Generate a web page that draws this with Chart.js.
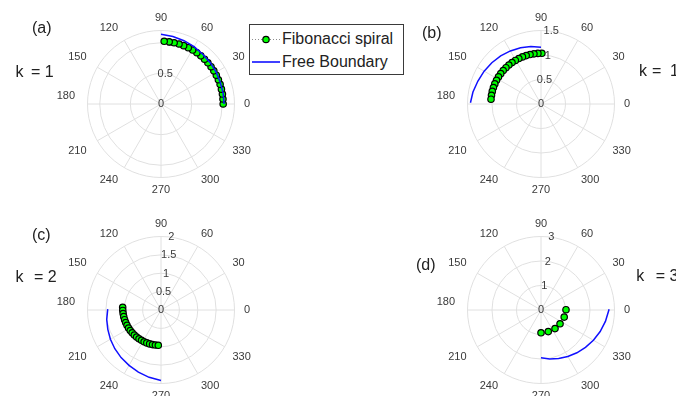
<!DOCTYPE html>
<html lang="en">
<head>
<meta charset="utf-8">
<title>Fibonacci spiral and free boundary</title>
<script src="https://cdn.jsdelivr.net/npm/chart.js@4.4.1/dist/chart.umd.min.js"></script>
<style>
  html, body { margin: 0; padding: 0; background: #fff; }
  body {
    position: relative; width: 691px; height: 396px; overflow: hidden;
    font-family: "Liberation Sans", Arial, Helvetica, sans-serif; color: #222;
  }
  canvas.polar { position: absolute; }
  .txt { position: absolute; font-size: 16px; line-height: 16px; white-space: pre; }
  .clip { position: absolute; overflow: hidden; height: 22px; }
  .clip .txt { left: 0; top: 0; }
  #legend {
    position: absolute; left: 249px; top: 24px; width: 153px; height: 49px;
    border: 1px solid #3a3a3a; background: #fff;
  }
  #legend svg { position: absolute; left: 0; top: 0; }
</style>
</head>
<body>

<canvas id="pa" class="polar" width="240" height="240" style="left:41px;top:-16px"></canvas>
<canvas id="pb" class="polar" width="240" height="240" style="left:421px;top:-16px"></canvas>
<canvas id="pc" class="polar" width="240" height="240" style="left:41px;top:190px"></canvas>
<canvas id="pd" class="polar" width="240" height="240" style="left:421px;top:190px"></canvas>

<div class="txt" style="left:32px;top:20px">(a)</div>
<div class="txt" style="left:15.6px;top:64px">k <span style="margin-left:3px">=</span> 1</div>
<div class="txt" style="left:422px;top:25px">(b)</div>
<div class="clip" style="left:638.9px;top:63px;width:37.1px"><div class="txt">k <span style="margin-left:0.75px">=</span> <span style="margin-left:4.1px">1.5</span></div></div>
<div class="txt" style="left:32px;top:227px">(c)</div>
<div class="txt" style="left:15.6px;top:269px">k <span style="margin-left:6px">=</span> 2</div>
<div class="txt" style="left:416px;top:257px">(d)</div>
<div class="clip" style="left:636.2px;top:268px;width:39.8px"><div class="txt">k <span style="margin-left:7.1px">=</span> 3</div></div>

<div id="legend">
  <svg width="153" height="49">
    <line x1="2" y1="14.5" x2="30" y2="14.5" stroke="#8c8c8c" stroke-width="1" stroke-dasharray="1,2"/>
    <circle cx="16" cy="14.5" r="3.2" fill="#00ff00" stroke="#000" stroke-width="1.2"/>
    <line x1="2" y1="37" x2="30" y2="37" stroke="#0000ff" stroke-width="1.5"/>
  </svg>
  <div class="txt" style="left:32px;top:6px">Fibonacci spiral</div>
  <div class="txt" style="left:32px;top:29px">Free Boundary</div>
</div>

<script>
// Angular grid (degrees) shared by all four polar panels
const ANGLE_TICKS = [0, 30, 60, 90, 120, 150, 180, 210, 240, 270, 300, 330];

// (a) k = 1 : first quarter turn
const ringsA = [0, 0.5, 1];
const outerA = 1.2;
const fibThetaA = [0, 4.6, 9.2, 13.8, 18.4, 22.9, 27.5, 32.1, 36.7, 41.3, 45.8, 50.4, 55.0, 59.6, 64.2, 68.8, 73.3, 77.9, 82.5, 87.1];
const fibRA     = [1.015, 1.015, 1.016, 1.016, 1.017, 1.017, 1.018, 1.018, 1.019, 1.019, 1.020, 1.020, 1.021, 1.021, 1.022, 1.022, 1.023, 1.023, 1.024, 1.025];
const bndThetaA = [0, 10, 20, 30, 40, 50, 60, 70, 80, 90];
const bndRA     = [1.03, 1.03, 1.03, 1.04, 1.05, 1.06, 1.08, 1.10, 1.12, 1.14];

// (b) k = 1.5 : second quarter turn
const ringsB = [0, 0.5, 1, 1.5];
const outerB = 1.5;
const fibThetaB = [89, 93.5, 98, 102.5, 107, 111.5, 116, 120.5, 125, 129.5, 134, 138.5, 143, 147.5, 152, 156.5, 161, 165.5, 170, 174.5];
const fibRB     = [1.035, 1.035, 1.034, 1.034, 1.033, 1.033, 1.032, 1.032, 1.031, 1.031, 1.030, 1.030, 1.029, 1.029, 1.028, 1.028, 1.027, 1.027, 1.026, 1.025];
const bndThetaB = [90, 100, 110, 120, 130, 140, 150, 160, 170, 179];
const bndRB     = [1.16, 1.19, 1.22, 1.25, 1.28, 1.31, 1.34, 1.37, 1.41, 1.44];

// (c) k = 2 : third quarter turn
const ringsC = [0, 0.5, 1, 1.5, 2];
const outerC = 2;
const fibThetaC = [176, 180.7, 185.4, 190.1, 194.9, 199.6, 204.3, 209, 213.7, 218.4, 223.2, 227.9, 232.6, 237.3, 242, 246.7, 251.5, 256.2, 260.9, 265.6];
const fibRC     = [1.045, 1.04, 1.035, 1.03, 1.025, 1.02, 1.015, 1.01, 1.005, 1.0, 0.995, 0.99, 0.985, 0.98, 0.978, 0.975, 0.972, 0.969, 0.966, 0.963];
const bndThetaC = [179, 190, 200, 210, 220, 230, 240, 250, 260, 270];
const bndRC     = [1.45, 1.50, 1.54, 1.59, 1.64, 1.69, 1.74, 1.80, 1.86, 1.92];

// (d) k = 3 : fourth quarter turn
const ringsD = [0, 1, 2, 3];
const outerD = 3;
const fibThetaD = [270, 288.6, 307, 324, 343, 360.7];
const fibRD     = [0.93, 0.93, 0.95, 0.96, 0.99, 1.02];
const bndThetaD = [270, 280, 290, 300, 310, 320, 330, 340, 350, 360.6];
const bndRD     = [1.95, 2.03, 2.11, 2.19, 2.28, 2.37, 2.47, 2.57, 2.67, 2.78];

// pixel radius of the outer ring and half-size of each canvas
const RING_PX = 73.5;
const HALF_PX = 120;

function toXY(theta, r) {
  return theta.map((t, i) => {
    const a = t * Math.PI / 180;
    return { x: r[i] * Math.cos(a), y: r[i] * Math.sin(a) };
  });
}

// Draws rings, spokes and their labels from the chart's own x/y scales
const polarGrid = {
  id: 'polarGrid',
  beforeDatasetsDraw(chart, args, opts) {
    const { ctx } = chart;
    const xs = chart.scales.x, ys = chart.scales.y;
    const cx = xs.getPixelForValue(0), cy = ys.getPixelForValue(0);
    const px = r => xs.getPixelForValue(r) - cx;
    const R = px(opts.outer);
    ctx.save();
    ctx.strokeStyle = '#e0e0e0';
    ctx.lineWidth = 1;
    ANGLE_TICKS.forEach(a => {
      const t = a * Math.PI / 180;
      ctx.beginPath();
      ctx.moveTo(cx, cy);
      ctx.lineTo(cx + R * Math.cos(t), cy - R * Math.sin(t));
      ctx.stroke();
    });
    const circles = opts.rings.filter(r => r > 0);
    if (!circles.includes(opts.outer)) circles.push(opts.outer);
    circles.forEach(r => {
      ctx.beginPath();
      ctx.arc(cx, cy, px(r), 0, Math.PI * 2);
      ctx.stroke();
    });

    ctx.fillStyle = '#3a3a3a';
    ctx.font = '11px "Liberation Sans", Arial, sans-serif';
    ctx.textBaseline = 'middle';
    const rl = R * 1.17;
    ANGLE_TICKS.forEach(a => {
      const t = a * Math.PI / 180, c = Math.cos(t), s = Math.sin(t);
      let xx = cx + rl * c;
      const yy = cy - (rl * s + 8 * Math.sign(s) * (1 - Math.abs(s)));
      if (c > 0.01) { ctx.textAlign = 'left'; xx -= 3; }
      else if (c < -0.01) { ctx.textAlign = 'right'; }
      else { ctx.textAlign = 'center'; }
      ctx.fillText(String(a), xx, yy);
    });
    ctx.textAlign = 'center';
    const tl = 82 * Math.PI / 180;
    opts.rings.forEach(r => {
      const d = px(r);
      ctx.fillText(String(r), cx + d * Math.cos(tl), cy - d * Math.sin(tl));
    });
    ctx.restore();
  }
};

function polarPanel(id, rings, outer, fibT, fibR, bndT, bndR) {
  const lim = outer * HALF_PX / RING_PX;
  return new Chart(document.getElementById(id), {
    type: 'scatter',
    data: {
      datasets: [
        {
          label: 'Free Boundary',
          data: toXY(bndT, bndR),
          showLine: true,
          borderColor: '#1010ff',
          borderWidth: 1.5,
          pointRadius: 0,
          fill: false,
          order: 0
        },
        {
          label: 'Fibonacci spiral',
          data: toXY(fibT, fibR),
          showLine: true,
          borderColor: '#8c8c8c',
          borderWidth: 1,
          borderDash: [1, 2],
          pointRadius: 3.2,
          pointBackgroundColor: '#00ff00',
          pointBorderColor: '#000000',
          pointBorderWidth: 1.2,
          fill: false,
          order: 1
        }
      ]
    },
    options: {
      responsive: false,
      animation: false,
      events: [],
      layout: { padding: 0, autoPadding: false },
      plugins: {
        legend: { display: false },
        tooltip: { enabled: false },
        polarGrid: { rings: rings, outer: outer }
      },
      scales: {
        x: { type: 'linear', min: -lim, max: lim, display: false },
        y: { type: 'linear', min: -lim, max: lim, display: false }
      }
    },
    plugins: [polarGrid]
  });
}

polarPanel('pa', ringsA, outerA, fibThetaA, fibRA, bndThetaA, bndRA);
polarPanel('pb', ringsB, outerB, fibThetaB, fibRB, bndThetaB, bndRB);
polarPanel('pc', ringsC, outerC, fibThetaC, fibRC, bndThetaC, bndRC);
polarPanel('pd', ringsD, outerD, fibThetaD, fibRD, bndThetaD, bndRD);
</script>
</body>
</html>
